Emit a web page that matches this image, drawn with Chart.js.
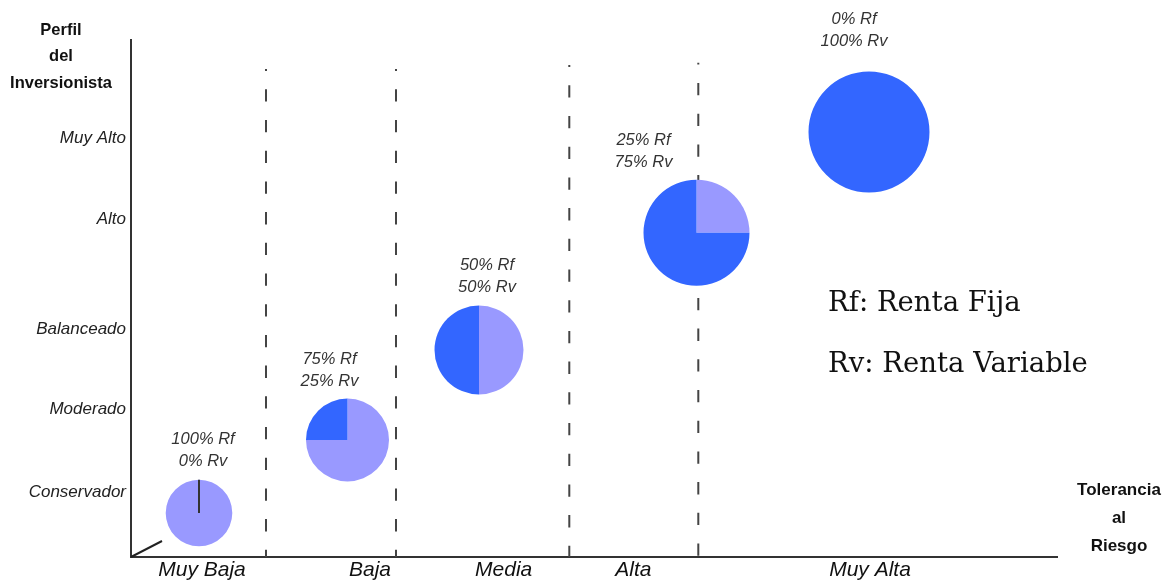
<!DOCTYPE html>
<html>
<head>
<meta charset="utf-8">
<script src="https://cdn.jsdelivr.net/npm/chart.js@4"></script>
<style>
  html, body { margin: 0; padding: 0; background: #ffffff; }
  #wrap { width: 1163px; height: 581px; }
</style>
</head>
<body>
<div id="wrap"><canvas id="perfil" width="1163" height="581"></canvas></div>
<script>
// Risk tolerance (x) and investor profile (y) axes
const toleranceLabels = ['Muy Baja', 'Baja', 'Media', 'Alta', 'Muy Alta'];
const toleranceTickPos = [0.71, 2.39, 3.727, 5.023, 7.39];
const profileLabels = ['Conservador', 'Moderado', 'Balanceado', 'Alto', 'Muy Alto'];
const profileTickPos = [0.648, 1.475, 2.282, 3.38, 4.185];

// One portfolio per profile: where it sits and its fixed / variable income split (%)
const portfolioX = [0.68, 2.165, 3.48, 5.655, 7.38];
const portfolioY = [0.44, 1.17, 2.07, 3.243, 4.25];
const rentaFija = [100, 75, 50, 25, 0];
const rentaVariable = [0, 25, 50, 75, 100];

// Dashed separators between tolerance bands
const dividerX = [1.35, 2.65, 4.383, 5.673];
const dividerTop = [4.88, 4.88, 4.92, 4.943];

const SANS = '"Liberation Sans", Arial, sans-serif';
const SERIF = '"DejaVu Serif", "Liberation Serif", serif';
const COLOR_RF = '#9999ff';
const COLOR_RV = '#3366ff';

const pieRadii = [33.3, 41.5, 44.5, 53, 60.5];
// label placement relative to each pie: [dx from centre, gap above pie top]
const labelPlacement = [[4, 18], [-18, 17], [8, 18], [-53, 17], [-15, 30]];

const piePlugin = {
  id: 'portfolioPies',
  afterDatasetsDraw(chart) {
    const ctx = chart.ctx;
    const meta = chart.getDatasetMeta(0);
    meta.data.forEach((el, i) => {
      const x = el.x, y = el.y, r = el.options.radius;
      const start = -Math.PI / 2;
      const total = rentaFija[i] + rentaVariable[i];
      const split = start + (rentaFija[i] / total) * Math.PI * 2;
      ctx.save();
      if (rentaFija[i] > 0) {
        ctx.beginPath();
        ctx.moveTo(x, y);
        ctx.arc(x, y, r, start, split);
        ctx.closePath();
        ctx.fillStyle = COLOR_RF;
        ctx.fill();
      }
      if (rentaVariable[i] > 0) {
        ctx.beginPath();
        ctx.moveTo(x, y);
        ctx.arc(x, y, r, split, start + Math.PI * 2);
        ctx.closePath();
        ctx.fillStyle = COLOR_RV;
        ctx.fill();
      } else {
        // empty variable slice collapses to a radial stroke
        ctx.beginPath();
        ctx.moveTo(x, y);
        ctx.lineTo(x + r * Math.cos(split), y + r * Math.sin(split));
        ctx.strokeStyle = '#333333';
        ctx.lineWidth = 2;
        ctx.stroke();
      }
      // percentage labels above the pie
      const [dx, gap] = labelPlacement[i];
      const lx = x + dx;
      const ly2 = y - r - gap;
      ctx.fillStyle = '#333333';
      ctx.font = 'italic 16.5px ' + SANS;
      ctx.textAlign = 'center';
      ctx.textBaseline = 'middle';
      ctx.fillText(rentaFija[i] + '% Rf', lx, ly2 - 22);
      ctx.fillText(rentaVariable[i] + '% Rv', lx, ly2);
      ctx.restore();
    });
  },
  afterDraw(chart) {
    const ctx = chart.ctx;
    const area = chart.chartArea;
    ctx.save();
    // small oblique stroke at the origin
    ctx.beginPath();
    ctx.moveTo(area.left, area.bottom);
    ctx.lineTo(area.left + 31, area.bottom - 16);
    ctx.strokeStyle = '#222222';
    ctx.lineWidth = 2;
    ctx.stroke();

    ctx.fillStyle = '#111111';
    ctx.textAlign = 'center';
    ctx.textBaseline = 'middle';
    ctx.font = 'bold 16.5px ' + SANS;
    ['Perfil', 'del', 'Inversionista'].forEach((t, k) => ctx.fillText(t, 61, 30.5 + k * 26.3));
    ctx.font = 'bold 17px ' + SANS;
    ['Tolerancia', 'al', 'Riesgo'].forEach((t, k) => ctx.fillText(t, 1119, 490.5 + k * 27.7));

    ctx.textAlign = 'left';
    ctx.textBaseline = 'alphabetic';
    ctx.fillStyle = '#111111';
    ctx.font = '27.5px ' + SERIF;
    ctx.fillText('Rf: Renta Fija', 828, 311);
    ctx.fillText('Rv: Renta Variable', 828, 371.5);
    ctx.restore();
  }
};

const datasets = [
  {
    type: 'bubble',
    data: portfolioX.map((x, i) => ({ x: x, y: portfolioY[i] })),
    radius: ctx => pieRadii[ctx.dataIndex],
    backgroundColor: 'rgba(0,0,0,0)',
    borderWidth: 0,
    clip: false
  }
].concat(dividerX.map((x, i) => ({
  type: 'line',
  data: [{ x: x, y: dividerTop[i] }, { x: x, y: 0 }],
  borderColor: '#444444',
  borderWidth: 2,
  borderDash: [12.3, 18.4],
  borderDashOffset: 10.4,
  borderCapStyle: 'butt',
  pointRadius: 0,
  fill: false,
  tension: 0,
  clip: false
})));

new Chart(document.getElementById('perfil'), {
  type: 'bubble',
  data: { datasets: datasets },
  plugins: [piePlugin],
  options: {
    responsive: false,
    devicePixelRatio: 1,
    animation: false,
    events: [],
    layout: { autoPadding: false, padding: { left: 0, top: 40, right: 106, bottom: 0 } },
    plugins: { legend: { display: false }, tooltip: { enabled: false } },
    scales: {
      x: {
        type: 'linear',
        min: 0,
        max: 9.26,
        afterFit: s => { s.height = 24; },
        afterBuildTicks: s => { s.ticks = toleranceTickPos.map(v => ({ value: v })); },
        grid: { display: false, drawTicks: false },
        border: { display: true, color: '#333333', width: 2 },
        ticks: {
          callback: (v, i) => toleranceLabels[i],
          autoSkip: false,
          maxRotation: 0,
          padding: 1,
          color: '#111111',
          font: { family: SANS, size: 21, style: 'italic', lineHeight: 1.2 }
        }
      },
      y: {
        type: 'linear',
        min: 0,
        max: 5.17,
        afterFit: s => { s.width = 131; },
        afterBuildTicks: s => { s.ticks = profileTickPos.map(v => ({ value: v })); },
        grid: { display: false, drawTicks: false },
        border: { display: true, color: '#333333', width: 2 },
        ticks: {
          callback: (v, i) => profileLabels[i],
          autoSkip: false,
          padding: 5,
          color: '#222222',
          font: { family: SANS, size: 17, style: 'italic' }
        }
      }
    }
  }
});
</script>
</body>
</html>
